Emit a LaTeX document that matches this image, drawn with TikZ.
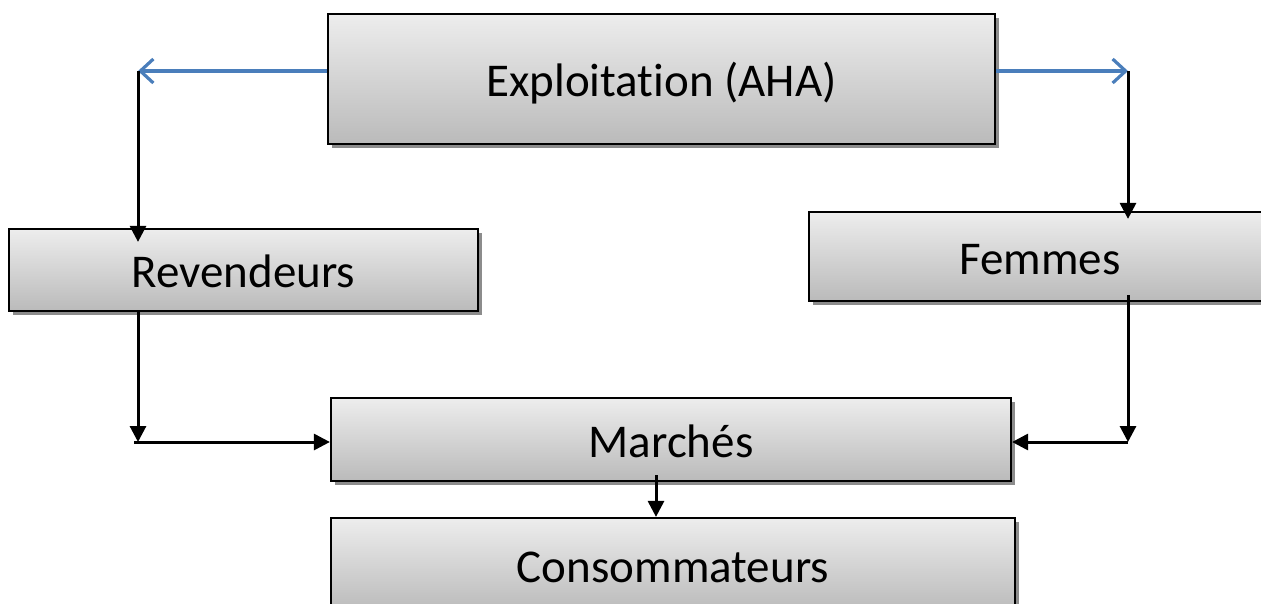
\documentclass[tikz,border=0pt]{standalone}
\usepackage{fontspec}
\setmainfont{Carlito}[RawFeature={-liga;-clig;-calt;-dlig}]
\usetikzlibrary{shadows,arrows.meta,calc}
\definecolor{arrblue}{RGB}{74,126,187}
\tikzset{
  box/.style={draw=black, line width=2.2pt, top color=black!7, bottom color=black!27,
    drop shadow={shadow xshift=4pt, shadow yshift=-4pt, fill=black!45, opacity=1},
    inner sep=0pt, text height=40pt, text depth=5pt,
    font=\fontsize{47}{56}\selectfont, text=black},
  blk/.style={draw=black, line width=3pt, -{Triangle[length=16pt,width=16pt]}},
  bluearr/.style={draw=arrblue, line width=3.2pt, -{Straight Barb[length=13pt,width=24pt,line width=3.2pt]}}
}
\begin{document}
\begin{tikzpicture}[x=1pt,y=-1pt]
\useasboundingbox (0,0) rectangle (1261,603);
\node[box, minimum width=667pt, minimum height=130pt] (top) at (661.5,79) {Exploitation (AHA)};
\node[box, minimum width=469pt, minimum height=82pt] (rev) at (243.5,270) {Revendeurs};
\node[box, minimum width=462pt, minimum height=89pt] (fem) at (1040,256.5) {Femmes};
\node[box, minimum width=680pt, minimum height=83pt] (mar) at (671,439.5) {Marchés};
\node[box, minimum width=684pt, minimum height=94pt] (con) at (673,565) {Consommateurs};
\coordinate (tl) at (138,71);
\coordinate (tr) at (1128,71);
\coordinate (bl) at (138,442);
\coordinate (br) at (1128,442);
\coordinate (mc) at (656,0);
\draw[bluearr] (top.west |- tl) -- (tl);
\draw[bluearr] (top.east |- tr) -- (tr);
\draw[blk] (tl) -- ($(tl |- rev.north)+(0,14)$);
\draw[blk] (tr) -- ($(tr |- fem.north)+(0,8)$);
\draw[blk] (tl |- rev.south) -- (bl);
\draw[blk] ($(tr |- fem.south)+(0,-7)$) -- (br);
\draw[blk] ($(bl)+(-4,0)$) -- (bl -| mar.west);
\draw[blk] (br) -- (br -| mar.east);
\draw[blk] ($(mc |- mar.south)+(0,-7)$) -- (mc |- con.north);
\end{tikzpicture}
\end{document}
